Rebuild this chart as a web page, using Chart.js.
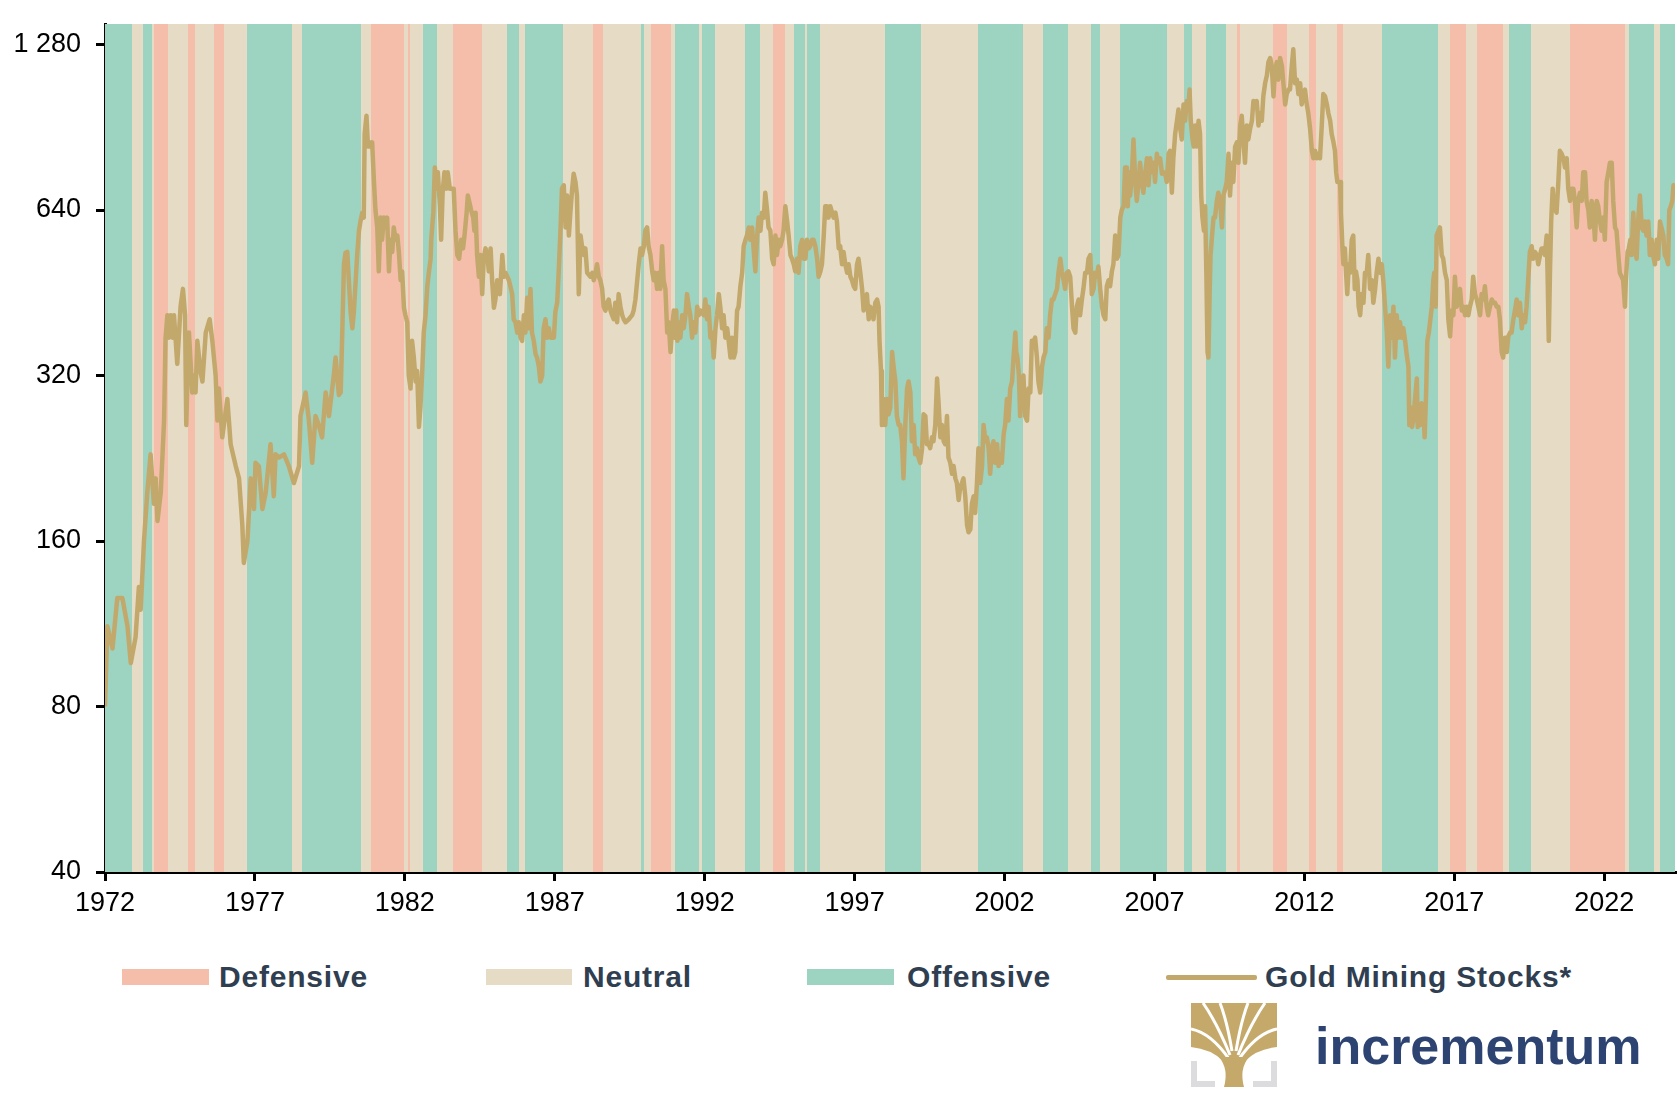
<!DOCTYPE html>
<html>
<head>
<meta charset="utf-8">
<script src="https://cdn.jsdelivr.net/npm/chart.js@4.4.1/dist/chart.umd.min.js"></script>
<style>
  body { margin: 0; background: #fff; width: 1677px; height: 1104px; position: relative; overflow: hidden;
         font-family: "Liberation Sans", Arial, sans-serif; }
  #wrap { position: absolute; left: 0; top: 0; width: 1677px; height: 945px; }
  .box { position: absolute; top: 969px; height: 16px; }
  .lab { position: absolute; top: 962px; font-size: 30px; line-height: 30px; font-weight: bold;
         color: #2F3E50; letter-spacing: 0.8px; white-space: nowrap; }
  #logoText { position: absolute; left: 1315px; top: 1020px; font-size: 52px; line-height: 52px;
              font-weight: bold; color: #2D4372; white-space: nowrap; }
  #logoIcon { position: absolute; left: 1191px; top: 1003px; }
</style>
</head>
<body>
<div id="wrap"><canvas id="goldChart"></canvas></div>

<div class="box" style="left:122px;width:87px;background:#F5BEAB"></div>
<div class="lab" style="left:219px">Defensive</div>
<div class="box" style="left:486px;width:86px;background:#E6DCC5"></div>
<div class="lab" style="left:583px">Neutral</div>
<div class="box" style="left:807px;width:87px;background:#9DD3C1"></div>
<div class="lab" style="left:907px">Offensive</div>
<div class="box" style="left:1166px;width:91px;height:5px;top:975px;background:#C3A86C;border-radius:2px"></div>
<div class="lab" style="left:1265px">Gold Mining Stocks*</div>

<svg id="logoIcon" width="86" height="84" viewBox="0 0 86 84">
  <g fill="#DCDCDE">
    <path d="M0 56h6v22h18v6H0z"/>
    <path d="M86 56h-6v22H62v6h24z"/>
  </g>
  <rect x="0" y="0" width="86" height="58" fill="#C4A96B"/>
  <path d="M0 44 Q20 46 32 58 H0z" fill="#fff"/>
  <path d="M86 44 Q66 46 54 58 H86z" fill="#fff"/>
  <g stroke="#fff" stroke-width="3" fill="none">
    <path d="M38 56 Q20 30 0 26"/>
    <path d="M39 52 Q26 20 12 0"/>
    <path d="M41 48 Q36 18 29 0"/>
    <path d="M45 48 Q50 18 57 0"/>
    <path d="M47 52 Q60 20 74 0"/>
    <path d="M48 56 Q66 30 86 26"/>
  </g>
  <path d="M33 84 Q38 66 28 54 H58 Q48 66 53 84Z" fill="#C4A96B"/>
</svg>
<div id="logoText">incrementum</div>

<script>
const ctx = document.getElementById('goldChart').getContext('2d');

// regime categories and band colours
const regimes = ['Defensive', 'Neutral', 'Offensive'];
const regimeColors = ['#F5BEAB', '#E6DCC5', '#9DD3C1'];
const regimeIndex = { D: 0, N: 1, O: 2 };

// band edges (years) and the regime of each band between two edges
const bandEdges = [1972.0, 1972.89, 1973.26, 1973.56, 1973.62, 1974.09, 1974.76, 1974.99, 1975.62, 1975.96,
  1976.72, 1978.22, 1978.56, 1980.55, 1980.86, 1981.96, 1982.11, 1982.18, 1982.62, 1983.06,
  1983.59, 1984.56, 1985.42, 1985.82, 1986.02, 1987.26, 1988.29, 1988.61, 1989.89, 1989.96,
  1990.22, 1990.86, 1991.02, 1991.82, 1991.92, 1992.36, 1993.36, 1993.86, 1994.29, 1994.69,
  1994.99, 1995.36, 1995.42, 1995.86, 1998.02, 1999.22, 2001.12, 2002.62, 2003.29, 2004.12,
  2004.89, 2005.19, 2005.86, 2007.42, 2007.99, 2008.26, 2008.72, 2009.39, 2009.76, 2009.86,
  2010.96, 2011.42, 2012.16, 2012.39, 2013.09, 2013.29, 2014.59, 2016.46, 2016.86, 2017.39,
  2017.76, 2018.62, 2018.82, 2019.56, 2020.86, 2022.69, 2022.82, 2023.66, 2023.86, 2024.36];
const bandRegime = ['O','N','O','N','D','N','D','N','D','N',
  'O','N','O','N','D','N','D','N','O','N',
  'D','N','O','N','O','N','D','N','O','N',
  'D','N','O','N','O','N','O','N','D','N',
  'O','N','O','N','O','N','O','N','O','N',
  'O','N','O','N','O','N','O','N','D','N',
  'D','N','D','N','D','N','O','N','D','N',
  'D','N','O','N','D','N','O','N','O'];

// gold mining stocks index
const dates = [
  1972.00,1972.08,1972.25,1972.41,1972.58,1972.75,1972.86,1973.02,1973.13,1973.19,
  1973.30,1973.41,1973.52,1973.63,1973.69,1973.75,1973.86,1973.97,1974.02,1974.08,
  1974.13,1974.19,1974.25,1974.30,1974.41,1974.52,1974.60,1974.67,1974.71,1974.76,
  1974.80,1974.91,1974.97,1975.02,1975.08,1975.19,1975.25,1975.36,1975.49,1975.58,
  1975.69,1975.75,1975.80,1975.91,1976.08,1976.19,1976.36,1976.47,1976.58,1976.63,
  1976.75,1976.86,1976.97,1977.02,1977.13,1977.25,1977.36,1977.52,1977.63,1977.69,
  1977.80,1977.97,1978.13,1978.30,1978.47,1978.52,1978.69,1978.80,1978.91,1979.02,
  1979.13,1979.24,1979.36,1979.47,1979.63,1979.69,1979.80,1979.86,1979.91,1979.97,
  1980.02,1980.08,1980.19,1980.25,1980.30,1980.41,1980.47,1980.52,1980.58,1980.63,
  1980.66,1980.72,1980.77,1980.81,1980.86,1980.91,1980.97,1981.02,1981.08,1981.13,
  1981.19,1981.24,1981.30,1981.36,1981.41,1981.47,1981.52,1981.58,1981.63,1981.69,
  1981.75,1981.80,1981.86,1981.91,1981.97,1982.02,1982.08,1982.13,1982.19,1982.24,
  1982.30,1982.36,1982.41,1982.47,1982.52,1982.58,1982.63,1982.69,1982.75,1982.80,
  1982.86,1982.88,1982.95,1983.00,1983.06,1983.10,1983.17,1983.21,1983.26,1983.32,
  1983.39,1983.43,1983.50,1983.63,1983.69,1983.75,1983.81,1983.88,1983.94,1983.99,
  1984.06,1984.10,1984.17,1984.21,1984.28,1984.32,1984.36,1984.41,1984.47,1984.52,
  1984.58,1984.63,1984.69,1984.75,1984.80,1984.86,1984.91,1984.97,1985.02,1985.08,
  1985.17,1985.25,1985.30,1985.36,1985.47,1985.52,1985.58,1985.63,1985.69,1985.75,
  1985.80,1985.86,1985.91,1985.97,1986.02,1986.08,1986.13,1986.19,1986.24,1986.30,
  1986.36,1986.41,1986.47,1986.52,1986.58,1986.63,1986.69,1986.75,1986.80,1986.86,
  1986.97,1987.02,1987.08,1987.13,1987.19,1987.24,1987.30,1987.36,1987.41,1987.47,
  1987.52,1987.58,1987.63,1987.69,1987.74,1987.80,1987.86,1987.91,1987.97,1988.02,
  1988.08,1988.19,1988.25,1988.30,1988.36,1988.41,1988.47,1988.52,1988.58,1988.63,
  1988.69,1988.75,1988.80,1988.86,1988.91,1988.97,1989.02,1989.08,1989.13,1989.19,
  1989.25,1989.30,1989.36,1989.47,1989.58,1989.63,1989.69,1989.75,1989.80,1989.86,
  1989.91,1989.97,1990.02,1990.08,1990.13,1990.19,1990.25,1990.30,1990.36,1990.41,
  1990.47,1990.52,1990.58,1990.63,1990.69,1990.75,1990.80,1990.86,1990.91,1990.97,
  1991.00,1991.05,1991.09,1991.13,1991.19,1991.25,1991.30,1991.36,1991.41,1991.47,
  1991.52,1991.58,1991.63,1991.69,1991.75,1991.80,1991.86,1991.97,1992.02,1992.08,
  1992.13,1992.19,1992.25,1992.30,1992.36,1992.41,1992.47,1992.52,1992.58,1992.63,
  1992.69,1992.75,1992.80,1992.86,1992.91,1992.97,1993.02,1993.08,1993.13,1993.19,
  1993.25,1993.30,1993.36,1993.41,1993.47,1993.52,1993.58,1993.63,1993.69,1993.75,
  1993.80,1993.86,1993.91,1993.97,1994.02,1994.08,1994.13,1994.19,1994.25,1994.30,
  1994.36,1994.41,1994.47,1994.52,1994.58,1994.63,1994.69,1994.75,1994.80,1994.86,
  1994.91,1994.97,1995.02,1995.08,1995.13,1995.19,1995.25,1995.30,1995.36,1995.41,
  1995.47,1995.52,1995.58,1995.63,1995.69,1995.75,1995.80,1995.86,1995.91,1995.97,
  1996.02,1996.08,1996.13,1996.19,1996.25,1996.30,1996.36,1996.41,1996.47,1996.52,
  1996.58,1996.63,1996.69,1996.75,1996.80,1996.86,1996.91,1996.97,1997.02,1997.08,
  1997.13,1997.19,1997.25,1997.30,1997.36,1997.41,1997.47,1997.52,1997.58,1997.63,
  1997.69,1997.75,1997.80,1997.83,1997.88,1997.91,1997.97,1998.02,1998.08,1998.13,
  1998.19,1998.25,1998.30,1998.36,1998.41,1998.47,1998.52,1998.58,1998.63,1998.69,
  1998.75,1998.80,1998.86,1998.91,1998.97,1999.02,1999.08,1999.13,1999.19,1999.25,
  1999.30,1999.36,1999.41,1999.47,1999.52,1999.58,1999.63,1999.69,1999.75,1999.80,
  1999.86,1999.91,1999.97,2000.02,2000.08,2000.13,2000.19,2000.25,2000.30,2000.36,
  2000.41,2000.47,2000.52,2000.58,2000.63,2000.69,2000.75,2000.80,2000.86,2000.91,
  2000.97,2001.02,2001.08,2001.13,2001.19,2001.25,2001.30,2001.36,2001.41,2001.47,
  2001.52,2001.58,2001.63,2001.69,2001.75,2001.80,2001.86,2001.91,2001.97,2002.02,
  2002.08,2002.13,2002.19,2002.25,2002.30,2002.36,2002.39,2002.43,2002.48,2002.52,
  2002.58,2002.63,2002.69,2002.75,2002.80,2002.86,2002.91,2002.97,2003.02,2003.08,
  2003.13,2003.19,2003.25,2003.30,2003.36,2003.41,2003.47,2003.52,2003.58,2003.63,
  2003.69,2003.75,2003.80,2003.86,2003.91,2003.97,2004.02,2004.08,2004.13,2004.19,
  2004.25,2004.30,2004.36,2004.41,2004.47,2004.52,2004.58,2004.63,2004.69,2004.75,
  2004.80,2004.86,2004.91,2004.97,2005.02,2005.08,2005.13,2005.19,2005.25,2005.30,
  2005.36,2005.41,2005.47,2005.52,2005.58,2005.63,2005.69,2005.75,2005.80,2005.86,
  2005.91,2005.97,2006.02,2006.08,2006.11,2006.16,2006.19,2006.25,2006.30,2006.36,
  2006.41,2006.47,2006.52,2006.58,2006.63,2006.69,2006.75,2006.80,2006.86,2006.91,
  2006.97,2007.02,2007.08,2007.13,2007.19,2007.25,2007.30,2007.36,2007.41,2007.47,
  2007.52,2007.58,2007.63,2007.69,2007.75,2007.80,2007.86,2007.91,2007.97,2008.02,
  2008.08,2008.13,2008.17,2008.21,2008.27,2008.31,2008.36,2008.41,2008.47,2008.52,
  2008.56,2008.60,2008.65,2008.69,2008.73,2008.77,2008.80,2008.84,2008.87,2008.91,
  2008.97,2009.02,2009.08,2009.13,2009.19,2009.25,2009.30,2009.36,2009.41,2009.47,
  2009.52,2009.58,2009.63,2009.69,2009.75,2009.80,2009.86,2009.91,2009.97,2010.02,
  2010.08,2010.13,2010.19,2010.25,2010.30,2010.36,2010.41,2010.47,2010.52,2010.58,
  2010.63,2010.69,2010.75,2010.80,2010.86,2010.91,2010.97,2011.02,2011.08,2011.13,
  2011.19,2011.25,2011.30,2011.36,2011.41,2011.47,2011.52,2011.58,2011.63,2011.69,
  2011.75,2011.80,2011.86,2011.91,2011.97,2012.02,2012.08,2012.13,2012.19,2012.25,
  2012.30,2012.36,2012.41,2012.47,2012.52,2012.58,2012.63,2012.69,2012.75,2012.80,
  2012.86,2012.91,2012.97,2013.02,2013.06,2013.10,2013.19,2013.22,2013.27,2013.30,
  2013.35,2013.39,2013.43,2013.48,2013.52,2013.58,2013.63,2013.68,2013.72,2013.77,
  2013.81,2013.86,2013.91,2013.97,2014.02,2014.08,2014.13,2014.19,2014.25,2014.30,
  2014.36,2014.41,2014.47,2014.52,2014.58,2014.63,2014.69,2014.75,2014.80,2014.86,
  2014.91,2014.97,2015.02,2015.08,2015.13,2015.19,2015.25,2015.30,2015.36,2015.41,
  2015.47,2015.50,2015.55,2015.59,2015.63,2015.69,2015.75,2015.78,2015.82,2015.86,
  2015.91,2015.97,2016.01,2016.06,2016.10,2016.15,2016.19,2016.25,2016.30,2016.33,
  2016.38,2016.41,2016.47,2016.52,2016.58,2016.63,2016.69,2016.75,2016.80,2016.86,
  2016.91,2016.97,2017.02,2017.08,2017.13,2017.19,2017.25,2017.30,2017.36,2017.41,
  2017.47,2017.52,2017.58,2017.63,2017.69,2017.75,2017.80,2017.86,2017.91,2017.97,
  2018.02,2018.08,2018.13,2018.19,2018.25,2018.30,2018.36,2018.41,2018.47,2018.52,
  2018.58,2018.63,2018.69,2018.75,2018.80,2018.86,2018.91,2018.97,2019.02,2019.08,
  2019.13,2019.19,2019.25,2019.30,2019.36,2019.41,2019.47,2019.52,2019.58,2019.63,
  2019.69,2019.75,2019.80,2019.86,2019.91,2019.97,2020.02,2020.08,2020.11,2020.15,
  2020.19,2020.23,2020.28,2020.32,2020.41,2020.47,2020.52,2020.58,2020.64,2020.69,
  2020.75,2020.80,2020.86,2020.91,2020.97,2021.02,2021.08,2021.13,2021.19,2021.25,
  2021.30,2021.36,2021.41,2021.47,2021.52,2021.58,2021.63,2021.69,2021.75,2021.80,
  2021.86,2021.91,2021.97,2022.02,2022.08,2022.13,2022.19,2022.25,2022.30,2022.36,
  2022.41,2022.47,2022.52,2022.58,2022.63,2022.69,2022.72,2022.78,2022.82,2022.87,
  2022.91,2022.97,2023.02,2023.08,2023.13,2023.19,2023.25,2023.30,2023.36,2023.41,
  2023.47,2023.52,2023.58,2023.63,2023.69,2023.75,2023.80,2023.86,2023.91,2023.97,
  2024.02,2024.08,2024.13,2024.17,2024.22,2024.27,2024.31,2024.36];

const miners = [
  80,112,102,126,126,112,96,107,132,120,
  160,196,230,187,208,174,196,265,375,412,
  375,412,375,412,336,427,460,412,260,331,
  383,298,320,298,370,324,312,383,405,370,
  320,265,303,247,290,240,219,208,171,146,
  160,208,183,222,219,183,196,240,193,230,
  227,230,219,204,219,270,298,265,222,270,
  260,247,298,270,320,345,295,298,377,510,
  535,537,418,390,418,530,587,610,633,620,
  880,950,835,850,835,850,720,640,595,495,
  620,565,620,595,620,495,565,537,595,565,
  575,537,477,495,425,412,400,320,303,370,
  345,312,326,258,280,326,383,412,465,492,
  522,565,633,765,700,750,650,565,688,750,
  700,750,700,700,587,530,522,565,545,575,
  633,680,655,640,620,587,633,530,484,530,
  450,522,545,530,495,545,477,425,440,477,
  450,530,484,492,477,465,450,405,400,383,
  400,375,370,412,383,443,390,460,383,370,
  350,345,332,312,320,390,405,375,390,375,
  375,418,434,492,587,700,710,595,680,575,
  633,700,745,720,680,450,575,550,530,545,
  492,484,492,477,492,510,484,477,460,427,
  420,434,440,420,412,405,434,400,450,427,
  412,405,400,405,412,420,440,477,510,545,
  530,550,587,595,550,530,495,477,492,460,
  492,460,550,477,460,383,400,353,390,420,
  375,420,370,400,375,412,390,412,450,427,
  412,375,400,383,427,412,420,412,440,405,
  427,375,383,345,390,412,450,427,390,412,
  375,390,370,345,375,345,353,420,427,465,
  492,550,565,575,595,565,595,545,495,575,
  620,587,633,620,688,640,595,587,522,510,
  575,530,565,550,565,587,650,610,575,530,
  522,510,495,522,492,550,565,522,522,565,
  545,550,565,565,550,522,484,495,510,575,
  650,650,620,650,633,620,633,610,545,550,
  510,537,510,492,510,484,477,465,460,510,
  522,492,460,420,440,450,405,427,420,405,
  434,440,427,370,326,260,290,260,290,272,
  280,353,332,312,270,260,260,243,208,260,
  303,312,298,243,260,230,236,227,222,236,
  272,270,240,240,236,247,243,260,316,285,
  247,260,243,240,270,227,222,212,219,208,
  204,190,200,204,208,193,171,166,168,187,
  193,180,204,236,204,219,260,243,247,236,
  212,236,243,222,240,219,230,222,250,260,
  290,265,303,312,345,383,353,345,320,270,
  312,320,270,265,303,298,370,370,375,345,
  312,298,332,345,353,390,375,412,440,440,
  450,460,492,522,495,477,460,492,495,484,
  427,390,383,427,440,412,440,460,492,492,
  522,530,450,460,492,484,505,460,427,412,
  405,465,477,465,495,510,575,522,530,620,
  640,650,765,765,650,750,680,745,860,720,
  665,720,780,720,688,745,795,710,795,750,
  780,720,810,780,795,745,750,745,720,810,
  820,688,795,880,930,975,900,860,996,930,
  1010,975,1060,930,860,835,912,835,930,880,
  680,620,587,650,492,353,345,450,530,565,
  620,620,665,688,665,595,680,700,720,810,
  680,780,720,835,850,780,912,950,850,780,
  912,860,900,930,1010,996,1010,912,960,930,
  1030,1088,1125,1189,1210,1170,1030,1150,1189,1105,
  1210,1170,1088,996,1040,1060,1060,1170,1255,1088,
  1105,1040,1088,996,1040,1060,996,960,900,820,
  795,820,795,810,795,912,1040,1030,996,960,
  930,880,850,820,750,720,720,633,545,510,
  545,492,450,510,492,565,575,460,495,477,
  427,412,450,434,492,492,530,460,477,434,
  460,492,522,492,510,477,427,383,332,412,
  375,427,345,412,375,400,375,390,370,350,
  332,260,280,258,265,290,316,258,280,260,
  285,280,247,298,370,383,400,427,477,492,
  427,575,587,595,530,522,492,477,405,377,
  420,412,484,427,434,460,420,427,412,427,
  412,427,440,484,450,440,427,412,450,440,
  465,427,412,427,440,434,434,427,427,405,
  353,345,375,353,377,383,383,405,420,440,
  412,434,390,412,400,427,484,537,550,522,
  537,530,510,530,545,545,530,575,492,370,
  492,610,700,650,633,720,820,810,795,765,
  795,700,665,700,700,665,595,665,688,665,
  750,750,665,640,595,665,640,565,665,650,
  610,587,620,565,720,745,780,780,665,595,
  587,530,492,484,477,427,477,537,545,565,
  530,633,545,522,610,680,595,587,610,575,
  610,530,565,530,510,565,522,610,595,575,
  530,522,510,640,650,665,710,680];

// axis ticks
const yearTicks = [1972, 1977, 1982, 1987, 1992, 1997, 2002, 2007, 2012, 2017, 2022];
const valueTicks = [40, 80, 160, 320, 640, 1280];

const fontFamily = '"Liberation Sans", Arial, sans-serif';

// paints the regime bands behind the line, positioned with the x scale
const regimeBands = {
  id: 'regimeBands',
  beforeDatasetsDraw(chart) {
    const { ctx, chartArea, scales } = chart;
    ctx.save();
    for (let i = 0; i < bandRegime.length; i++) {
      const x1 = Math.round(scales.x.getPixelForValue(bandEdges[i]));
      const x2 = Math.round(scales.x.getPixelForValue(bandEdges[i + 1]));
      ctx.fillStyle = regimeColors[regimeIndex[bandRegime[i]]];
      ctx.fillRect(x1, chartArea.top, x2 - x1, chartArea.bottom - chartArea.top);
    }
    ctx.restore();
  }
};

const axisGrid = { drawOnChartArea: false, drawTicks: true, tickLength: 9, lineWidth: 3, color: '#000' };
const axisBorder = { display: true, color: '#000', width: 3 };

let goldChart = new Chart(ctx, {
  type: 'line',
  data: {
    datasets: [{
      label: 'Gold Mining Stocks*',
      data: dates.map((d, i) => ({ x: d, y: miners[i] })),
      borderColor: '#C3A86C',
      borderWidth: 4.5,
      pointRadius: 0,
      tension: 0,
      fill: false,
      borderJoinStyle: 'round'
    }]
  },
  options: {
    responsive: true,
    maintainAspectRatio: false,
    animation: false,
    devicePixelRatio: 1,
    layout: { padding: { top: 24, right: 2, left: 0, bottom: 0 } },
    plugins: {
      legend: { display: false },
      tooltip: { enabled: false }
    },
    scales: {
      x: {
        type: 'linear',
        min: 1972,
        max: 2024.36,
        bounds: 'data',
        z: 1,
        afterBuildTicks: s => { s.ticks = yearTicks.map(v => ({ value: v })); },
        afterFit: s => { s.height = 73; s.paddingLeft = 0; s.paddingRight = 0; },
        grid: axisGrid,
        border: axisBorder,
        ticks: {
          color: '#000',
          font: { family: fontFamily, size: 27 },
          padding: 6,
          maxRotation: 0,
          autoSkip: false,
          callback: v => String(v)
        }
      },
      y: {
        type: 'logarithmic',
        min: 40,
        max: 1395,
        bounds: 'data',
        z: 1,
        afterBuildTicks: s => { s.ticks = valueTicks.map(v => ({ value: v })); },
        afterFit: s => { s.width = 105; s.paddingTop = 0; s.paddingBottom = 0; },
        grid: axisGrid,
        border: axisBorder,
        ticks: {
          color: '#000',
          font: { family: fontFamily, size: 27 },
          padding: 15,
          autoSkip: false,
          callback: v => v >= 1000 ? Math.floor(v / 1000) + ' ' + String(v % 1000).padStart(3, '0') : String(v)
        }
      }
    }
  },
  plugins: [regimeBands]
});
</script>
</body>
</html>
